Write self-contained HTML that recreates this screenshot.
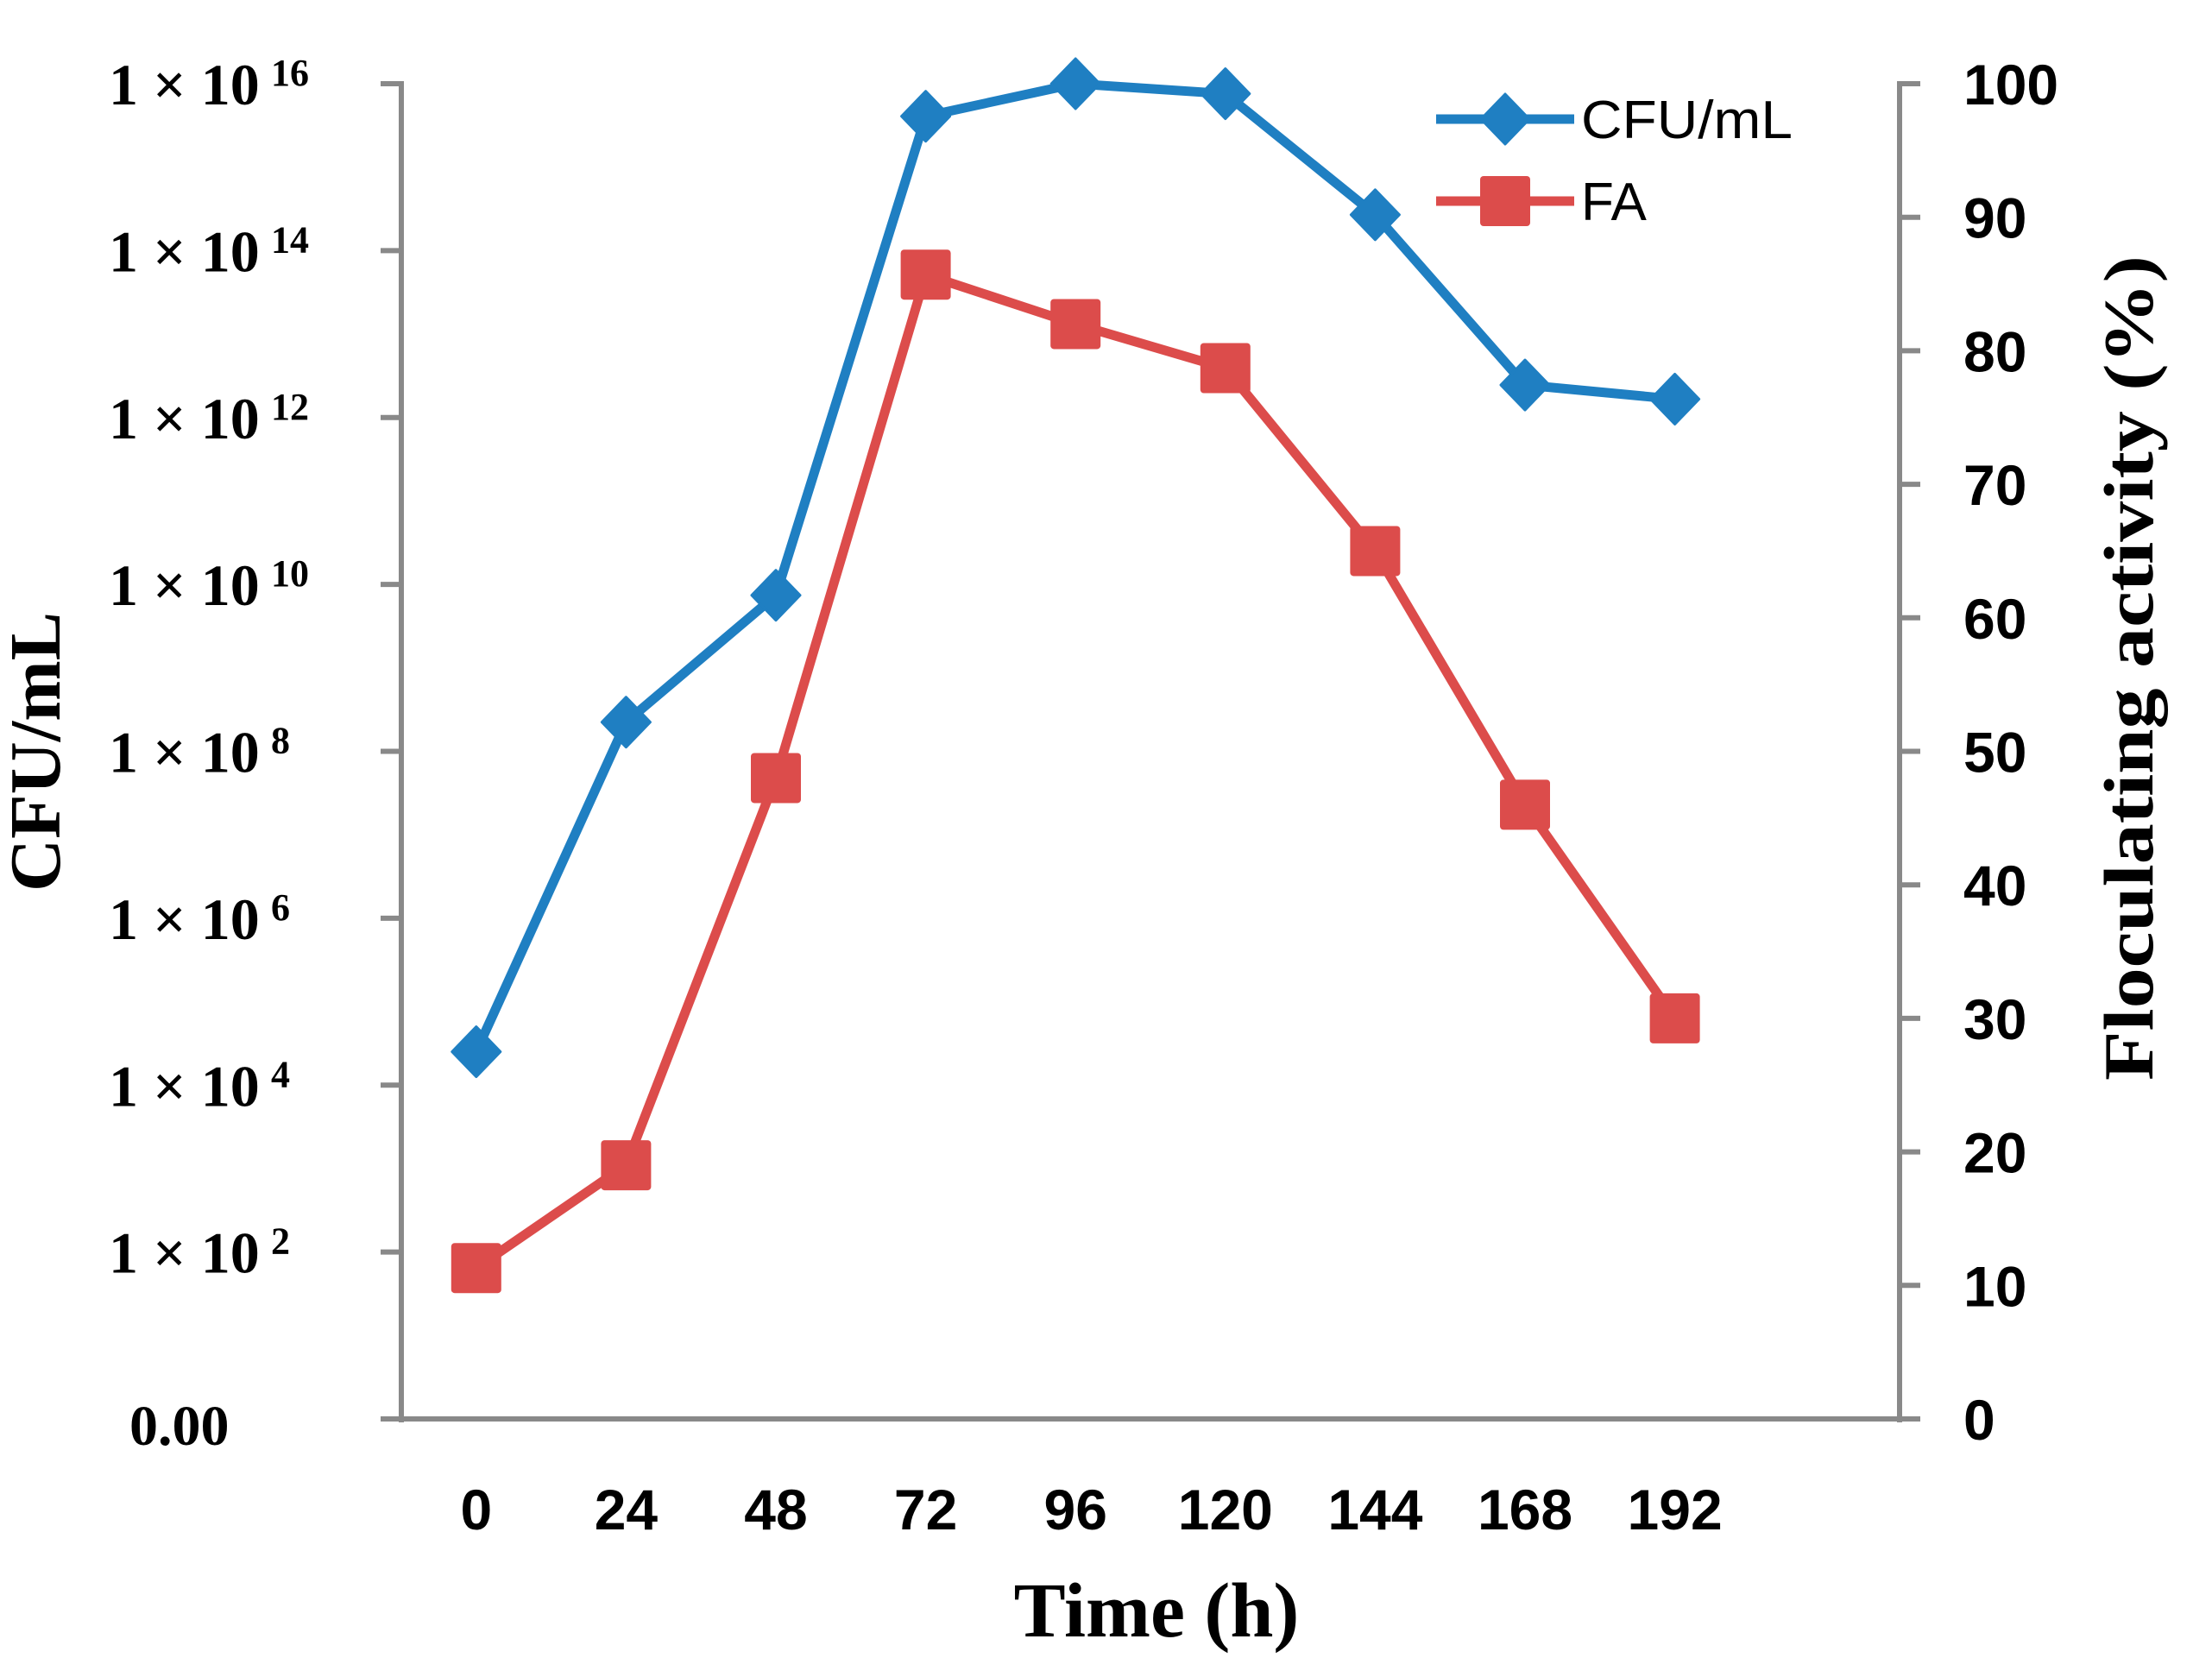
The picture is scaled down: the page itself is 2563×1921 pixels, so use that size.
<!DOCTYPE html>
<html><head><meta charset="utf-8"><style>
html,body{margin:0;padding:0;background:#fff;}
svg{display:block;}
</style></head><body>
<svg id="chart" width="2563" height="1921" viewBox="0 0 2563 1921" xmlns="http://www.w3.org/2000/svg">
<g id="axes"></g>
<g id="series"></g>
<g id="legend"></g>
</svg>
<script>
const categories = ["0","24","48","72","96","120","144","168","192"];
const cfuLog = [4.4, 8.35, 9.87, 15.61, 16.0, 15.88, 14.43, 12.39, 12.22];
const faValues = [11.3, 19.0, 48.0, 85.7, 82.0, 78.7, 65.0, 46.0, 30.0];
const leftTickExps = [2, 4, 6, 8, 10, 12, 14, 16];
const rightTicks = [0, 10, 20, 30, 40, 50, 60, 70, 80, 90, 100];

const NS = "http://www.w3.org/2000/svg";
const L = 465, R = 2201, T = 97, B = 1644;
const nSlots = 10;
const slotW = (R - L) / nSlots;
function xPos(i){ return L + slotW * (i + 0.5); }
function yLog(e){ return B - (e / 16) * (B - T); }
function yPct(v){ return B - (v / 100) * (B - T); }
function mk(tag, attrs, parent){
  const el = document.createElementNS(NS, tag);
  for (const k in attrs) el.setAttribute(k, attrs[k]);
  parent.appendChild(el);
  return el;
}
const axes = document.getElementById('axes');
const series = document.getElementById('series');
const legend = document.getElementById('legend');
const grey = "#898989";

let el;
el = mk('line', {x1:L, y1:T-3, x2:L, y2:B+4, stroke:grey, 'stroke-width':6}, axes);


el = mk('line', {x1:R, y1:T-3, x2:R, y2:B+4, stroke:grey, 'stroke-width':6}, axes);


el = mk('line', {x1:L-24, y1:B, x2:R+24, y2:B, stroke:grey, 'stroke-width':6}, axes);



leftTickExps.forEach(function(e){
  const y = yLog(e);
  const t = mk('line', {x1:L-24, y1:y, x2:L, y2:y, stroke:grey, 'stroke-width':6}, axes);
  
  
  const tx = mk('text', {x:126, y:y+24, 'font-family':'"Liberation Serif", serif', 'font-weight':'bold', 'font-size':68, fill:'#000'}, axes);
  
  
  const s1 = mk('tspan', {}, tx); s1.textContent = "1 \u00d7 10";
  const s2 = mk('tspan', {x:314, y:y+2, 'font-size':44}, tx); s2.textContent = String(e);
});
el = mk('text', {x:150, y:B+30, 'font-family':'"Liberation Serif", serif', 'font-weight':'bold', 'font-size':66, fill:'#000'}, axes);
el.textContent = "0.00";



rightTicks.forEach(function(v){
  const y = yPct(v);
  const t = mk('line', {x1:R, y1:y, x2:R+24, y2:y, stroke:grey, 'stroke-width':6}, axes);
  
  
  const tx = mk('text', {x:2275, y:y+24, 'font-family':'"Liberation Sans", sans-serif', 'font-weight':'bold', 'font-size':66, fill:'#000'}, axes);
  tx.textContent = String(v);
  
  
});

categories.forEach(function(c, i){
  const tx = mk('text', {x:xPos(i), y:1772, 'text-anchor':'middle', 'font-family':'"Liberation Sans", sans-serif', 'font-weight':'bold', 'font-size':66, fill:'#000'}, axes);
  tx.textContent = c;
  
  
});

el = mk('text', {x:1340, y:1896, 'text-anchor':'middle', 'font-family':'"Liberation Serif", serif', 'font-weight':'bold', 'font-size':90, fill:'#000'}, axes);
el.textContent = "Time (h)";


el = mk('text', {x:0, y:0, transform:'translate(69,871) rotate(-90)', 'text-anchor':'middle', 'font-family':'"Liberation Serif", serif', 'font-weight':'bold', 'font-size':84, fill:'#000', textLength:324, lengthAdjust:'spacingAndGlyphs'}, axes);
el.textContent = "CFU/mL";


el = mk('text', {x:0, y:0, transform:'translate(2494,774) rotate(-90)', 'text-anchor':'middle', 'font-family':'"Liberation Serif", serif', 'font-weight':'bold', 'font-size':82, fill:'#000', textLength:956, lengthAdjust:'spacingAndGlyphs'}, axes);
el.textContent = "Floculating activity (%)";



const blue = "#1f7fc2", red = "#dc4c4b";
function diamond(cx, cy, g, name){
  const d = mk('polygon', {points:(cx-28)+','+cy+' '+cx+','+(cy-29)+' '+(cx+28)+','+cy+' '+cx+','+(cy+29), fill:blue, stroke:blue, 'stroke-width':3, 'stroke-linejoin':'round'}, g);
  
  
}
function square(cx, cy, g, name){
  const s = mk('rect', {x:cx-29, y:cy-29, width:58, height:58, rx:4, fill:red}, g);
  
  
}

const cfuPts = cfuLog.map(function(v,i){ return xPos(i)+','+yLog(v); }).join(' ');
el = mk('polyline', {points:cfuPts, fill:'none', stroke:blue, 'stroke-width':11, 'stroke-linejoin':'round'}, series);


const faPts = faValues.map(function(v,i){ return xPos(i)+','+yPct(v); }).join(' ');
el = mk('polyline', {points:faPts, fill:'none', stroke:red, 'stroke-width':11, 'stroke-linejoin':'round'}, series);


cfuLog.forEach(function(v,i){ diamond(xPos(i), yLog(v), series, 'cfu-point'); });
faValues.forEach(function(v,i){ square(xPos(i), yPct(v), series, 'fa-point'); });

el = mk('line', {x1:1664, y1:138, x2:1824, y2:138, stroke:blue, 'stroke-width':11}, legend);


diamond(1744, 138, legend, 'legend-cfu-marker');
el = mk('text', {x:1832, y:160, 'font-family':'"Liberation Sans", sans-serif', 'font-size':62, fill:'#000', textLength:245, lengthAdjust:'spacingAndGlyphs'}, legend);
el.textContent = "CFU/mL";


el = mk('line', {x1:1664, y1:233, x2:1824, y2:233, stroke:red, 'stroke-width':11}, legend);


square(1744, 233, legend, 'legend-fa-marker');
el = mk('text', {x:1832, y:255, 'font-family':'"Liberation Sans", sans-serif', 'font-size':62, fill:'#000'}, legend);
el.textContent = "FA";


</script>
</body></html>
